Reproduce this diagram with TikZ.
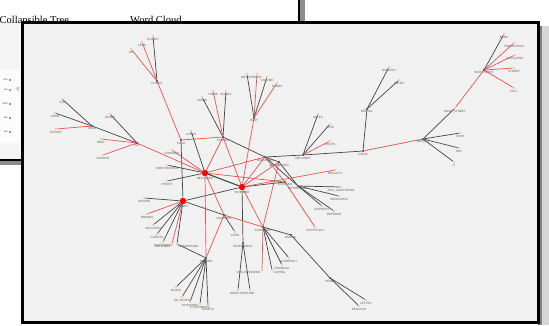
\documentclass[tikz,border=0pt]{standalone}
\usepackage{fontspec}
\setmainfont{Liberation Serif}
\setsansfont{Liberation Sans}

\definecolor{framebg}{RGB}{241,241,241}
\definecolor{edgered}{RGB}{234,82,82}
\definecolor{edgedark}{RGB}{68,68,68}
\definecolor{leafc}{RGB}{250,192,125}
\definecolor{hubc}{RGB}{70,40,40}
\definecolor{labc}{RGB}{95,95,95}
\definecolor{dotblue}{RGB}{70,130,205}

\pgfdeclarelayer{back}
\pgfdeclarelayer{edges}
\pgfsetlayers{back,edges,main}

\tikzset{
  er/.style={draw=edgered, line width=0.7pt},
  eb/.style={draw=edgedark, line width=0.7pt},
  leafdot/.style={circle, fill=leafc, inner sep=0pt, minimum size=2.4pt},
  hubdot/.style={circle, fill=hubc, inner sep=0pt, minimum size=2.2pt},
  bigdot/.style={circle, fill=red, inner sep=0pt, minimum size=6.5pt},
  lab/.style={font=\fontsize{3}{3.5}\selectfont\sffamily, text=labc, inner sep=0.4pt},
  title/.style={font=\fontsize{10.5}{12}\selectfont, inner sep=0pt, anchor=base west},
  itemtxt/.style={font=\fontsize{2.6}{3}\selectfont\sffamily, text=black!70, inner sep=0pt, anchor=east},
}

% name, x, y, label text (label set below the dot)
\newcommand\leafat[4]{\node[leafdot,label={[lab]below:#4}] (#1) at (#2,#3) {};}
\newcommand\hubat[4]{\node[hubdot,label={[lab]below:#4}] (#1) at (#2,#3) {};}
\newcommand\bigat[4]{\node[bigdot,label={[lab]below:#4}] (#1) at (#2,#3) {};}
% name, x, y, label position, label text
\newcommand\leafpos[5]{\node[leafdot,label={[lab]#4:#5}] (#1) at (#2,#3) {};}

\begin{document}
\begin{tikzpicture}[x=1pt,y=-1pt]
\useasboundingbox (0,0) rectangle (549,325);

% ---------- windows behind the graph ----------
\begin{pgfonlayer}{back}
  \fill[white] (0,0) rectangle (549,325);
  % left window: list panel
  \fill[black!4] (0,22) rectangle (22,160);
  \fill[black!1] (0,70) rectangle (20,143);
  \foreach \yy/\tt in {80/tion,90/ate,104/date,118/nks,132/fee}{
    \node[itemtxt] (it\yy) at (8,\yy) {\tt};
  }
  \foreach \yy in {80,104,118,132}{
    \node[circle, fill=dotblue, inner sep=0pt, minimum size=2.4pt] (bd\yy) at (10,\yy) {};
  }
  \node[circle, draw=dotblue, line width=0.4pt, inner sep=0pt, minimum size=2.2pt] (bd90) at (10,90) {};
  \fill[black!20] (15,88) -- (19,86.5) -- (19,91.5) -- cycle;
  \draw[line width=2pt] (0,160) -- (22,160);
  \fill[black!45] (0,161) rectangle (22,165);
  % titles of the upper window
  \node[title] (ttree) at (-0.5,23.5) {Collapsible Tree};
  \node[title] (tcloud) at (130,23.5) {Word Cloud};
  \draw[line width=2pt] (299,0) -- (299,22);
  \fill[black!45] (300,0) rectangle (305,22);
  % shadow to the right of the graph window
  \fill[black!50] (538,26) rectangle (542,325);
  \fill[black!16] (542,26) rectangle (549,325);
  % graph window
  \draw[line width=3pt, fill=framebg] (22,22.5) rectangle (538.5,322.5);
\end{pgfonlayer}

% ---------- nodes ----------
% upper left branch
\hubat{credit}{157}{81}{CREDIT}
\leafat{closet}{153}{36}{CLOSET}
\leafat{fees}{142}{42}{FEES}
\leafat{os}{131}{49}{OS}
% left branches
\hubat{real}{92}{126}{REAL}
\leafat{tax}{62}{99}{TAX}
\leafat{home}{55}{113}{HOME}
\leafat{estate}{56}{129}{ESTATE}
\hubat{ins}{137}{143}{INS}
\leafat{asset}{110}{114}{ASSET}
\leafat{brid}{101}{139}{BRID}
\leafat{source}{103}{155}{SOURCE}
% centre
\hubat{cash}{181}{140}{CASH}
\leafat{loans}{191}{131}{LOANS}
\hubat{stocks}{223}{137}{STOCKS}
\leafat{share}{202}{97}{SHARE}
\leafat{trade}{213}{91}{TRADE}
\leafat{bonds}{226}{91}{BONDS}
\hubat{daily}{254}{118}{DAILY}
\leafat{recent}{247}{74}{RECENT}
\leafat{price}{257}{74}{PRICE}
\leafat{volume}{267}{77}{VOLUME}
\leafat{funds}{277}{83}{FUNDS}
\leafat{company}{172}{150}{COMPANY}
\leafat{corp}{167}{165}{CORPORATION}
\leafat{profit}{167}{181}{PROFIT}
\bigat{r1}{205}{173}{DECLARED}
\bigat{r2}{242}{187}{DIVIDEND}
\bigat{r3}{183}{201}{BANKS}
\leafat{income}{144}{198}{INCOME}
\leafat{brands}{147}{214}{BRANDS}
\leafat{solution}{153}{225}{SOLUTION}
\leafat{clients}{157}{234}{CLIENTS}
\leafat{investors}{163}{242}{INVESTORS}
\leafpos{holdings}{172}{244}{below left}{HOLDINGS}
\leafpos{commission}{177}{244}{below right}{COMMISSION}
\hubat{quarter}{224}{215}{QUARTER}
\leafat{loan}{235}{232}{LOAN}
\hubat{invest}{243}{243}{INVESTMENT}
\leafat{director}{238}{290}{DIRECTOR}
\leafat{fund}{250}{290}{FUND}
\hubat{holder}{206}{258}{HOLDER}
\leafat{block}{176}{287}{BLOCK}
\leafat{hrblock}{182}{297}{HR\_BLOCK}
\leafat{divs}{190}{302}{DIVIDENDS}
\leafat{cust}{200}{304}{CUSTOMERS}
\leafat{assets}{208}{306}{ASSETS}
\hubat{payouts}{263}{227}{DIVIDENDS}
\leafpos{volunt}{262}{270}{below left}{VOLUNTEERING}
\leafpos{capital}{272}{270}{below right}{CAPITAL}
\leafat{financial}{282}{265}{FINANCIAL}
\leafat{currency}{289}{258}{CURRENCY}
\hubat{annual}{291}{235}{ANNUAL}
\hubat{bond}{330}{278}{BOND}
\leafat{letter}{366}{300}{LETTER}
\leafat{regular}{359}{306}{REGULAR}
% right of centre
\hubat{earn}{265}{157}{EARNINGS}
\hubat{announced}{279}{162}{ANNOUNCED}
\hubat{divhub}{285}{182}{DIVIDEND}
\hubat{retire}{298}{186}{RETIREMENT}
\leafat{results}{335}{170}{RESULTS}
\leafat{zoll}{341}{187}{ZOLL\_MASTERING}
\leafat{insur}{339}{196}{INSURANCE}
\leafat{interest}{322}{206}{INTEREST}
\leafat{defense}{334}{211}{DEFENSE}
\leafat{portfolio}{315}{227}{PORTFOLIO}
\hubat{declines}{303}{155}{DECLINES}
\leafat{sales}{318}{114}{SALES}
\leafat{loss}{330}{124}{LOSS}
\leafat{costs}{330}{141}{COSTS}
\hubat{gains}{363}{151}{GAINS}
\hubat{rental}{367}{109}{RENTAL}
\leafat{growth}{389}{67}{GROWTH}
\leafat{rates}{399}{80}{RATES}
\hubat{market}{423}{139}{MARKET}
\leafat{wall}{455}{108}{WALL\_STREET}
\leafat{tech}{460}{133}{TECH}
\leafat{bio}{459}{148}{BIO}
\leafat{itsec}{454}{162}{IT}
\hubat{fin}{484}{70}{INVESTMENT}
\leafat{bank}{504}{34}{BANK}
\leafat{prev}{514}{43}{PREVENTION}
\leafat{excl}{515}{55}{EXCLUSIVE}
\leafat{street}{514}{68}{STREET}
\leafat{call}{514}{88}{CALL}

% ---------- connectors ----------
\begin{pgfonlayer}{edges}
  \foreach \a/\b in {credit/closet, real/tax, real/home, real/ins, ins/asset,
      cash/r3, loans/r1, stocks/share, stocks/bonds, stocks/earn,
      daily/recent, daily/volume, corp/r1, profit/r1, r2/r3,
      r3/income, r3/solution, r3/clients, r3/investors, r3/commission, r3/quarter,
      commission/holder, quarter/loan, r2/invest, invest/director, invest/fund,
      holder/block, holder/hrblock, holder/divs, holder/cust, holder/assets,
      payouts/capital, payouts/financial, payouts/currency, payouts/annual,
      annual/bond, bond/letter, bond/regular,
      earn/announced, earn/declines, earn/retire, r2/divhub, announced/retire,
      retire/zoll, retire/insur, retire/interest, retire/defense,
      declines/sales, declines/loss, declines/gains,
      gains/rental, rental/growth, rental/rates,
      market/wall, market/tech, market/bio, market/itsec, fin/bank}
    \draw[eb] (\a) -- (\b);
  \draw[eb, line width=1.1pt] (r1) -- (r2);
  \foreach \a/\b in {credit/fees, credit/os, credit/cash, real/estate,
      ins/brid, ins/source, ins/r1, cash/stocks, stocks/trade, stocks/r1, stocks/r2,
      daily/price, daily/funds, daily/r2, company/r1, r3/brands, r3/holdings,
      r1/quarter, r1/holder, quarter/holder, quarter/payouts,
      r2/payouts, announced/payouts, payouts/volunt,
      r1/earn, earn/r2, earn/divhub, r1/divhub, r2/results, divhub/portfolio, announced/r2,
      declines/costs, gains/market, wall/fin,
      fin/prev, fin/excl, fin/street, fin/call}
    \draw[er] (\a) -- (\b);
\end{pgfonlayer}
\end{tikzpicture}
\end{document}
